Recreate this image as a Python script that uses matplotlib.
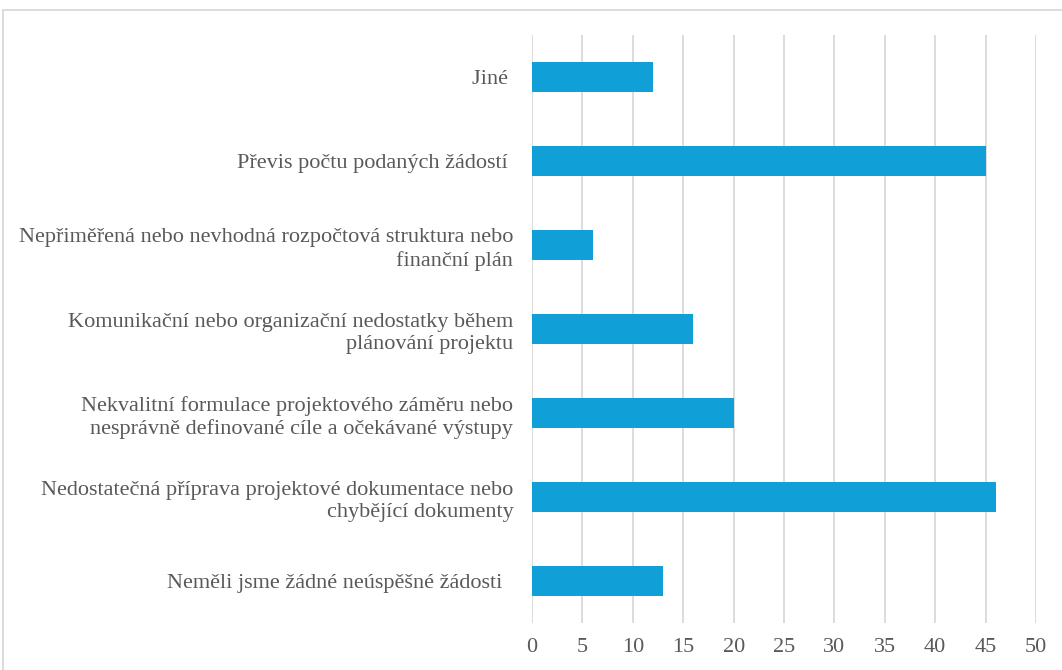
import matplotlib
matplotlib.use("Agg")
import matplotlib.pyplot as plt
from matplotlib.patches import Rectangle

categories = [
    "Neměli jsme žádné neúspěšné žádosti  ",
    "Nedostatečná příprava projektové dokumentace nebo\nchybějící dokumenty",
    "Nekvalitní formulace projektového záměru nebo\nnesprávně definované cíle a očekávané výstupy",
    "Komunikační nebo organizační nedostatky během\nplánování projektu",
    "Nepřiměřená nebo nevhodná rozpočtová struktura nebo\nfinanční plán",
    "Převis počtu podaných žádostí ",
    "Jiné ",
]
values = [13, 46, 20, 16, 6, 45, 12]
xticks = [0, 5, 10, 15, 20, 25, 30, 35, 40, 45, 50]

plt.rcParams['font.family'] = ['Liberation Serif', 'DejaVu Serif']
text_color = "#595959"

fig = plt.figure(figsize=(10.62, 6.70), dpi=100)
ax = fig.add_axes([0.501, 0.0701, 0.4745, 0.8777])

y = list(range(len(categories)))
ax.barh(y, values, height=0.35, color="#109FD6", zorder=3)
ax.set_ylim(-0.5, len(categories) - 0.5)
ax.set_xlim(0, 50)
ax.set_xticks(xticks)
ax.set_xticklabels([str(t) for t in xticks], fontsize=16, color=text_color)
ax.set_yticks(y)
ax.set_yticklabels(categories, fontsize=16, color=text_color, linespacing=1.25)
for lbl in ax.get_yticklabels():
    lbl.set_horizontalalignment('right')
ax.tick_params(axis='both', length=0)
ax.tick_params(axis='x', pad=11)
ax.tick_params(axis='y', pad=13.5)
ax.grid(axis='x', color="#d9d9d9", linewidth=1.3, zorder=0)
for s in ax.spines.values():
    s.set_visible(False)

# outer chart border
fig.patches.append(Rectangle((3 / 1062, -0.1), 1.2, (660 / 670) + 0.1,
                             transform=fig.transFigure, fill=False,
                             edgecolor="#d9d9d9", linewidth=1.3))

fig.savefig("out.png", dpi=100)
